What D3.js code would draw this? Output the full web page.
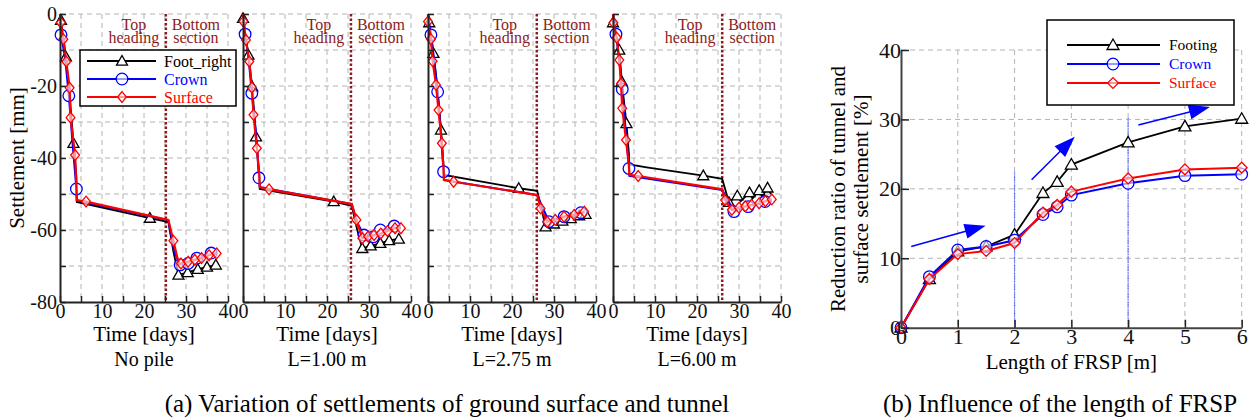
<!DOCTYPE html>
<html>
<head>
<meta charset="utf-8">
<script src="https://cdn.jsdelivr.net/npm/d3@7"></script>
<style>
  body { margin: 0; background: #fff; }
  text { font-family: "Liberation Serif", "Times New Roman", serif; }
</style>
</head>
<body>
<div id="chart"></div>
<script>
// ---- data: (a) settlement vs time, one array per panel, [day, mm, marker?]
const panelTitles = ["No pile", "L=1.00 m", "L=2.75 m", "L=6.00 m"];
const dividerDay = [25.2, 25.7, 25.9, 26];

const footRight = [
  [[0,0,0],[0.24,-1.7,1],[1.4,-11.9,1],[2.2,-21,0],[3.2,-35.9,1],[3.9,-45,0],[4,-52.2,0],[21.4,-56.7,1],[25.8,-57.8,0],[27,-66,0],[28.2,-72.5,1],[30.4,-71.8,1],[32.8,-70.9,1],[35,-70.3,1],[37.1,-69.7,1]],
  [[0,0,0],[0,-1.2,1],[1.3,-11.4,1],[2.2,-20.2,1],[3.1,-34.1,1],[3.9,-45,0],[4,-48.6,0],[21.6,-52.1,1],[25.9,-53.3,0],[27.2,-60,0],[28.4,-65.1,1],[30.4,-64.4,1],[32.7,-63.7,1],[34.8,-62.9,1],[37.1,-62.5,1]],
  [[0,0,0],[0.3,-2.4,1],[1.3,-10.9,1],[2.2,-20,0],[3.1,-32.2,1],[3.7,-42,0],[3.8,-44.7,0],[21.6,-48.4,1],[26,-49.1,0],[28,-59.1,1],[30,-58.3,1],[32,-57.5,1],[34,-56.8,1],[36,-56,1],[37.5,-55.6,1]],
  [[0,0,0],[0,-2.4,1],[1.5,-10,1],[2.1,-18.8,1],[3.2,-30.4,1],[3.8,-39,0],[3.9,-41.8,0],[8,-42.6,0],[21.5,-44.9,1],[26,-45.8,0],[27.6,-52.3,1],[29.6,-50.5,1],[30.4,-52,0],[32.5,-49.6,1],[33.2,-51.3,0],[34.8,-49,1],[35.5,-50.8,0],[36.8,-48.3,1],[37.6,-50,0]]
];

const crown = [
  [[0,0,0],[0.24,-5.8,1],[1.2,-12,0],[2.1,-22.7,1],[3,-36,0],[3.9,-48.6,1],[4,-51.8,0],[25.8,-57.3,0],[27.2,-66,0],[28.6,-69.7,1],[30.5,-69.3,1],[32.6,-67.8,1],[34.5,-67,0],[36,-66.4,1],[37.3,-66.5,0]],
  [[0,0,0],[0.5,-5.6,1],[1.3,-12,0],[2.1,-22,1],[3.1,-33,0],[3.8,-45.5,1],[4,-48.1,0],[25.9,-52.8,0],[27.2,-58,0],[28.8,-61.4,1],[31,-61.9,1],[32.7,-60,1],[34.5,-59.8,0],[36,-58.9,1],[37.5,-59.5,0]],
  [[0,0,0],[0.7,-5.8,1],[1.4,-12,0],[2.3,-21.6,1],[3,-32,0],[3.7,-43.8,1],[3.8,-46.1,0],[26,-50.3,0],[28.8,-57.7,1],[30.5,-57,0],[32.4,-56.3,1],[34.5,-55.8,0],[36.4,-55.2,1],[37.5,-55.3,0]],
  [[0,0,0],[0.7,-5.6,1],[1.4,-12,0],[2.2,-20.9,1],[3,-32,0],[3.8,-42.9,1],[3.9,-45,0],[26,-48.9,0],[27.5,-52,0],[28.8,-54.9,1],[30.5,-54,0],[32.2,-53.5,1],[34.5,-52.8,0],[36.2,-52.1,1],[37.8,-51.8,0]]
];

const surface = [
  [[0,0,0],[0.2,-2.4,1],[0.8,-7,1],[1.5,-13.2,1],[2.3,-20.5,1],[2.5,-28.8,1],[3.6,-39.2,1],[3.9,-48,0],[4,-51.7,0],[6.2,-52.1,1],[25.8,-57.2,0],[27,-63,1],[28.3,-69.5,0],[28.8,-69.3,1],[30.5,-68.8,1],[32.1,-68.3,1],[33.7,-67.8,1],[35.5,-67,1],[37.3,-66.5,1]],
  [[0,0,0],[0.1,-2.1,1],[0.7,-7.2,1],[1.5,-13.2,1],[2.1,-20.4,1],[2.5,-28,1],[3.3,-37.3,1],[3.9,-45,0],[4,-48.1,0],[6.2,-48.7,1],[25.9,-52.8,0],[27,-57.2,1],[28.4,-62.3,1],[29.8,-61.8,1],[31.2,-61.4,1],[32.8,-61,1],[34.4,-60.3,1],[36.2,-59.5,1],[37.6,-59.5,1]],
  [[0,0,0],[0,-2.1,1],[0.7,-7,1],[1.1,-13.1,1],[1.9,-19.7,1],[2.5,-26.7,1],[3.3,-35.9,1],[3.7,-43,0],[3.8,-46.1,0],[6.1,-46.6,1],[26,-50.3,0],[26.8,-54,1],[28.4,-57.7,1],[30.3,-57.2,1],[32.4,-56.3,1],[34.8,-55.8,1],[37.2,-54.9,1]],
  [[0,0,0],[0.1,-2.4,1],[0.9,-6.6,1],[1.5,-12.8,1],[1.9,-19.3,1],[2.2,-26.2,1],[3.1,-35,1],[3.8,-42,0],[3.9,-44.7,0],[6,-45,1],[26,-48.7,0],[26.7,-51.7,1],[28.3,-54.4,1],[30,-53.8,1],[31.5,-53.4,1],[33,-53,1],[34.8,-52.6,1],[36.3,-52,1],[37.8,-51.5,1]]
];

// ---- data: (b) reduction ratio vs FRSP length
const lengths = [0, 0.5, 1, 1.5, 2, 2.5, 2.75, 3, 4, 5, 6];
const footingRatio = [0, 7.0, 11.0, 11.7, 13.4, 19.4, 21.0, 23.5, 26.7, 29.0, 30.1];
const crownRatio   = [0, 7.35, 11.2, 11.7, 12.6, 16.3, 17.4, 19.1, 20.8, 21.9, 22.1];
const surfaceRatio = [0, 7.0, 10.6, 11.05, 12.2, 16.6, 17.7, 19.6, 21.5, 22.8, 23.05];
const guideLines = [[2, 22.4], [4, 30.2]];            // [length, top of blue line]
const arrows = [[[0.18, 11.7], [1.49, 14.7]], [[2.3, 21.3], [3.06, 27.5]], [[4.18, 29.2], [5.44, 31.8]]];

const FONT = '"Liberation Serif", "Times New Roman", serif';
const DARKRED = "#8b1c1c";

const svg = d3.select("#chart").append("svg")
  .attr("width", 1255).attr("height", 420)
  .style("background", "#fff");

function drawMarker(g, shape, cx, cy, color, s) {
  if (shape === "circle") {
    g.append("circle").attr("cx", cx).attr("cy", cy).attr("r", s.r)
      .attr("fill", "white").attr("fill-opacity", 0.6).attr("stroke", color).attr("stroke-width", 1.3);
  } else if (shape === "triangle") {
    const p = [[cx, cy - s.t], [cx + s.t, cy + s.t * 0.75], [cx - s.t, cy + s.t * 0.75]];
    g.append("path").attr("d", "M" + p.join("L") + "Z")
      .attr("fill", "white").attr("stroke", color).attr("stroke-width", 1.3);
  } else {
    const p = [[cx, cy - s.dh], [cx + s.dw, cy], [cx, cy + s.dh], [cx - s.dw, cy]];
    g.append("path").attr("d", "M" + p.join("L") + "Z")
      .attr("fill", "white").attr("fill-opacity", 0.6).attr("stroke", color).attr("stroke-width", 1.3);
  }
}

function styleAxis(a, size) {
  a.attr("font-family", FONT).attr("font-size", size);
  a.select(".domain").attr("stroke", "#222").attr("stroke-width", 2);
  a.selectAll(".tick line").attr("stroke", "#222").attr("stroke-width", 1.5);
  a.selectAll(".tick text").attr("fill", "#111");
}

// ================= (a) four panels =================
const panelLeft = [60, 243, 428, 613];
const panelW = 168, yTop = 14, yBot = 302;
const seriesA = [
  { name: "Foot_right", data: footRight, color: "black", shape: "triangle", w: 1.8 },
  { name: "Crown", data: crown, color: "#0000ff", shape: "circle", w: 2 },
  { name: "Surface", data: surface, color: "#ff0000", shape: "diamond", w: 2.2 }
];
const markA = { r: 5.8, t: 5.5, dw: 4.4, dh: 5.4 };

panelLeft.forEach((L, i) => {
  const x = d3.scaleLinear().domain([0, 40]).range([L, L + panelW]);
  const y = d3.scaleLinear().domain([-80, 0]).range([yBot, yTop]);
  const g = svg.append("g");

  // grid
  g.selectAll(".vg").data(d3.range(5, 41, 5)).join("line")
    .attr("x1", d => x(d)).attr("x2", d => x(d)).attr("y1", yTop).attr("y2", yBot)
    .attr("stroke", "#b4b4b4").attr("stroke-dasharray", "5,4");
  g.selectAll(".hg").data(d3.range(-70, 1, 10)).join("line")
    .attr("x1", L).attr("x2", L + panelW).attr("y1", d => y(d)).attr("y2", d => y(d))
    .attr("stroke", "#b4b4b4").attr("stroke-dasharray", "5,4");

  // excavation divider
  const dx = x(dividerDay[i]);
  g.append("line").attr("x1", dx).attr("x2", dx).attr("y1", yTop).attr("y2", yBot)
    .attr("stroke", DARKRED).attr("stroke-width", 2.5).attr("stroke-dasharray", "2.5,2");
  [["Top", 30, -32], ["heading", 43, -32], ["Bottom", 30, 30], ["section", 43, 30]].forEach(t => {
    g.append("text").attr("x", dx + t[2]).attr("y", t[1]).attr("text-anchor", "middle")
      .attr("font-size", 16).attr("fill", DARKRED).text(t[0]);
  });

  // series
  seriesA.forEach(s => {
    const pts = s.data[i];
    g.append("path").datum(pts)
      .attr("fill", "none").attr("stroke", s.color).attr("stroke-width", s.w)
      .attr("d", d3.line().x(d => x(d[0])).y(d => y(d[1])));
    pts.filter(d => d[2]).forEach(d => drawMarker(g, s.shape, x(d[0]), y(d[1]), s.color, markA));
  });

  // axes
  const ax = g.append("g").attr("transform", `translate(0,${yBot})`)
    .call(d3.axisBottom(x).tickValues(d3.range(0, 41, 5)).tickSize(-6).tickSizeOuter(0).tickPadding(2)
      .tickFormat(d => d % 10 === 0 ? d : ""));
  styleAxis(ax, 20);
  const ay = g.append("g").attr("transform", `translate(${L},0)`)
    .call(d3.axisLeft(y).tickValues(d3.range(-80, 1, 10)).tickSize(-6).tickSizeOuter(0).tickPadding(3)
      .tickFormat(d => (i === 0 && d % 20 === 0) ? d : ""));
  styleAxis(ay, 20);

  // labels
  g.append("text").attr("x", L + panelW / 2).attr("y", 341).attr("text-anchor", "middle")
    .attr("font-size", 21).text("Time [days]");
  g.append("text").attr("x", L + panelW / 2).attr("y", 366).attr("text-anchor", "middle")
    .attr("font-size", 20).text(panelTitles[i]);

  // legend in first panel
  if (i === 0) {
    const lg = g.append("g");
    lg.append("rect").attr("x", 80).attr("y", 50).attr("width", 156).attr("height", 56)
      .attr("fill", "white").attr("stroke", "black").attr("stroke-width", 1.5);
    seriesA.forEach((s, k) => {
      const yy = 61 + k * 18;
      lg.append("line").attr("x1", 87).attr("x2", 156).attr("y1", yy).attr("y2", yy)
        .attr("stroke", s.color).attr("stroke-width", s.w);
      drawMarker(lg, s.shape, 122, yy, s.color, markA);
      lg.append("text").attr("x", 164).attr("y", yy + 5.5).attr("font-size", 16)
        .attr("fill", s.color).text(s.name);
    });
  }
});

svg.append("text").attr("transform", "translate(24,158) rotate(-90)")
  .attr("text-anchor", "middle").attr("font-size", 21).text("Settlement [mm]");

svg.append("text").attr("x", 447).attr("y", 412).attr("text-anchor", "middle")
  .attr("font-size", 25).text("(a) Variation of settlements of ground surface and tunnel");

// ================= (b) reduction ratio =================
const xr = d3.scaleLinear().domain([0, 6]).range([901, 1241.7]);
const yr = d3.scaleLinear().domain([0, 40]).range([327.7, 50]);
const gb = svg.append("g");

gb.selectAll(".vg").data(d3.range(1, 7)).join("line")
  .attr("x1", d => xr(d)).attr("x2", d => xr(d)).attr("y1", yr(40)).attr("y2", yr(0))
  .attr("stroke", "#b4b4b4").attr("stroke-dasharray", "5,4");
gb.selectAll(".hg").data(d3.range(10, 41, 10)).join("line")
  .attr("x1", xr(0)).attr("x2", xr(6)).attr("y1", d => yr(d)).attr("y2", d => yr(d))
  .attr("stroke", "#b4b4b4").attr("stroke-dasharray", "5,4");

gb.selectAll(".guide").data(guideLines).join("line")
  .attr("x1", d => xr(d[0])).attr("x2", d => xr(d[0])).attr("y1", d => yr(d[1])).attr("y2", yr(0))
  .attr("stroke", "#4a5cff").attr("stroke-width", 1.2).attr("stroke-dasharray", "1,0.6");

// arrows
arrows.forEach(a => {
  const x1 = xr(a[0][0]), y1 = yr(a[0][1]), x2 = xr(a[1][0]), y2 = yr(a[1][1]);
  const len = Math.hypot(x2 - x1, y2 - y1), ux = (x2 - x1) / len, uy = (y2 - y1) / len;
  const hl = 21, hw = 7.5;
  const hx = x2 - ux * hl, hy = y2 - uy * hl;
  gb.append("line").attr("x1", x1).attr("y1", y1).attr("x2", hx + ux * 4).attr("y2", hy + uy * 4)
    .attr("stroke", "#0000ff").attr("stroke-width", 1.5);
  gb.append("path")
    .attr("d", `M${x2},${y2}L${hx - uy * hw},${hy + ux * hw}L${hx + uy * hw},${hy - ux * hw}Z`)
    .attr("fill", "#0000ff");
});

const seriesB = [
  { name: "Footing", data: footingRatio, color: "black", shape: "triangle", w: 1.8 },
  { name: "Crown", data: crownRatio, color: "#0000ff", shape: "circle", w: 2 },
  { name: "Surface", data: surfaceRatio, color: "#ff0000", shape: "diamond", w: 2 }
];
const markB = { r: 5.8, t: 6, dw: 5.4, dh: 5.4 };

seriesB.forEach(s => {
  const pts = lengths.map((l, k) => [l, s.data[k]]);
  gb.append("path").datum(pts)
    .attr("fill", "none").attr("stroke", s.color).attr("stroke-width", s.w)
    .attr("d", d3.line().x(d => xr(d[0])).y(d => yr(d[1])));
  pts.forEach(d => drawMarker(gb, s.shape, xr(d[0]), yr(d[1]), s.color, markB));
});

const axB = gb.append("g").attr("transform", `translate(0,${yr(0)})`)
  .call(d3.axisBottom(xr).ticks(6).tickSize(-8).tickSizeOuter(0).tickPadding(1));
styleAxis(axB, 22);
const ayB = gb.append("g").attr("transform", `translate(${xr(0)},0)`)
  .call(d3.axisLeft(yr).tickValues(d3.range(0, 41, 10)).tickSize(-8).tickSizeOuter(0).tickPadding(0));
styleAxis(ayB, 22);
axB.select(".domain").attr("stroke", "#444");
ayB.select(".domain").attr("stroke", "#444");

gb.append("text").attr("x", xr(3)).attr("y", 369).attr("text-anchor", "middle")
  .attr("font-size", 21).text("Length of FRSP [m]");
gb.append("text").attr("transform", "translate(845,189) rotate(-90)")
  .attr("text-anchor", "middle").attr("font-size", 21).text("Reduction ratio of tunnel and");
gb.append("text").attr("transform", "translate(868,189) rotate(-90)")
  .attr("text-anchor", "middle").attr("font-size", 21).text("surface settlement [%]");

// legend (b)
const lb = gb.append("g");
lb.append("rect").attr("x", 1047).attr("y", 20).attr("width", 187).attr("height", 85)
  .attr("fill", "white").attr("stroke", "black").attr("stroke-width", 1.5);
seriesB.forEach((s, k) => {
  const yy = 45 + k * 19;
  lb.append("line").attr("x1", 1067).attr("x2", 1160).attr("y1", yy).attr("y2", yy)
    .attr("stroke", s.color).attr("stroke-width", s.w);
  drawMarker(lb, s.shape, 1113, yy, s.color, markB);
  lb.append("text").attr("x", 1169).attr("y", yy + 5).attr("font-size", 15.5)
    .attr("fill", s.color).text(s.name);
});

svg.append("text").attr("x", 1060).attr("y", 412).attr("text-anchor", "middle")
  .attr("font-size", 25).text("(b) Influence of the length of FRSP");
</script>
</body>
</html>
